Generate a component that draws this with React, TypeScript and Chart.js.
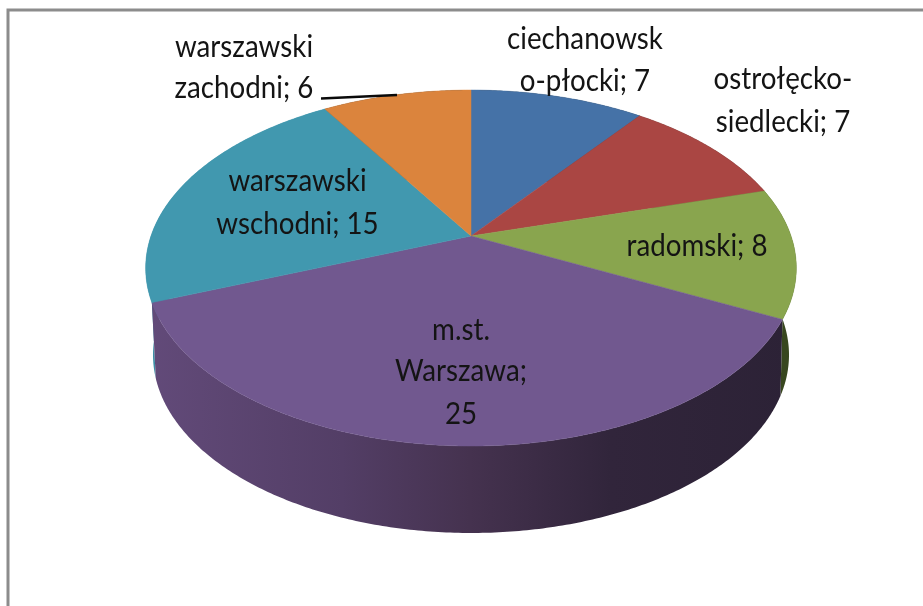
import React, { useEffect, useRef } from "react";
import { Chart, registerables } from "chart.js";

Chart.register(...registerables);

const categories = [
  "ciechanowsko-płocki",
  "ostrołęcko-siedlecki",
  "radomski",
  "m.st. Warszawa",
  "warszawski wschodni",
  "warszawski zachodni",
];
const seriesValues = [7, 7, 8, 25, 15, 6];
const sliceColors = ["#4572A7", "#AA4643", "#89A54E", "#71588F", "#4198AF", "#DB843D"];
const wrappedLabels = [
  ["ciechanowsk", "o-płocki; {v}"],
  ["ostrołęcko-", "siedlecki; {v}"],
  ["radomski; {v}"],
  ["m.st.", "Warszawa;", "{v}"],
  ["warszawski", "wschodni; {v}"],
  ["warszawski", "zachodni; {v}"],
];

// layout only: centre x and first/next baselines for each label
const labelLayout = [
  { x: 585, y: [49, 91] },
  { x: 783, y: [89, 132] },
  { x: 697, y: [256] },
  { x: 461, y: [340, 381, 424] },
  { x: 297.5, y: [191, 234] },
  { x: 244, y: [57, 98] },
];

const CX = 471;
const CY = 236;
const TOP_FACE = { persp: -0.18, rx: 320, ry: 172.2, y0: CY };
const BASE_FACE = { persp: -0.24, rx: 308.7, ry: 167.8, y0: 312.2 };
const TEXT_STRETCH = 0.895;

function project(f: { persp: number; rx: number; ry: number; y0: number }, theta: number) {
  const u = Math.sin(theta);
  const v = -Math.cos(theta);
  const d = 1 + f.persp * v;
  return { x: CX + (f.rx * u) / d, y: f.y0 + (f.ry * v) / d };
}

function arcPoints(a0: number, a1: number) {
  const n = Math.max(2, Math.ceil((a1 - a0) / 0.01));
  const pts: number[] = [];
  for (let i = 0; i <= n; i++) pts.push(a0 + ((a1 - a0) * i) / n);
  return pts;
}

const pie3d = {
  id: "pie3d",
  beforeDatasetsDraw(chart: any) {
    const ctx: CanvasRenderingContext2D = chart.ctx;
    const arcs = chart.getDatasetMeta(0).data as any[];
    const slices = arcs.map((el: any, i: number) => ({
      i,
      a0: el.startAngle + Math.PI / 2,
      a1: el.endAngle + Math.PI / 2,
      color: el.options.backgroundColor as string,
    }));

    // side walls
    const purple = ctx.createLinearGradient(150, 0, 790, 0);
    purple.addColorStop(0, "#624a79");
    purple.addColorStop(0.3, "#533e66");
    purple.addColorStop(0.5, "#45324f");
    purple.addColorStop(0.72, "#31253b");
    purple.addColorStop(1, "#2c2236");
    const sideFill = (i: number) =>
      i === 3 ? purple : i === 2 ? "#38471f" : i === 4 ? "#3c8ea6" : "#333333";
    [0, 1, 5, 4, 2, 3].forEach((idx) => {
      const s = slices[idx];
      const pts = arcPoints(s.a0, s.a1);
      ctx.beginPath();
      pts.forEach((t, k) => {
        const p = project(TOP_FACE, t);
        if (k === 0) ctx.moveTo(p.x, p.y);
        else ctx.lineTo(p.x, p.y);
      });
      pts
        .slice()
        .reverse()
        .forEach((t) => {
          const p = project(BASE_FACE, t);
          ctx.lineTo(p.x, p.y);
        });
      ctx.closePath();
      ctx.fillStyle = sideFill(idx) as any;
      ctx.fill();
    });

    // top face
    slices.forEach((s) => {
      ctx.beginPath();
      ctx.moveTo(CX, CY);
      arcPoints(s.a0, s.a1).forEach((t) => {
        const p = project(TOP_FACE, t);
        ctx.lineTo(p.x, p.y);
      });
      ctx.closePath();
      ctx.fillStyle = s.color;
      ctx.strokeStyle = s.color;
      ctx.lineWidth = 0.5;
      ctx.fill();
      ctx.stroke();
    });
    return false;
  },
  afterDraw(chart: any) {
    const ctx: CanvasRenderingContext2D = chart.ctx;
    ctx.save();
    // frame
    ctx.strokeStyle = "#8c8c8c";
    ctx.lineWidth = 3;
    ctx.beginPath();
    ctx.moveTo(8, 610);
    ctx.lineTo(8, 10);
    ctx.lineTo(930, 10);
    ctx.stroke();
    // leader line
    ctx.strokeStyle = "#0a0a0a";
    ctx.lineWidth = 2.5;
    ctx.beginPath();
    ctx.moveTo(321, 98.5);
    ctx.lineTo(397, 95);
    ctx.stroke();
    // labels
    ctx.fillStyle = "#141414";
    ctx.textAlign = "center";
    ctx.textBaseline = "alphabetic";
    ctx.font = "31px Lato";
    (ctx as any).filter = "blur(0.5px)";
    wrappedLabels.forEach((lines, i) => {
      lines.forEach((line, k) => {
        ctx.save();
        ctx.translate(labelLayout[i].x, labelLayout[i].y[k]);
        ctx.scale(TEXT_STRETCH, 1);
        ctx.fillText(line.replace("{v}", String(seriesValues[i])), 0, 0);
        ctx.restore();
      });
    });
    ctx.restore();
  },
};

export default function App() {
  const ref = useRef<HTMLCanvasElement>(null);
  useEffect(() => {
    const chart = new Chart(ref.current!, {
      type: "pie",
      data: {
        labels: categories,
        datasets: [{ data: seriesValues, backgroundColor: sliceColors, borderWidth: 0 }],
      },
      options: {
        animation: false,
        responsive: false,
        plugins: { legend: { display: false }, tooltip: { enabled: false } },
      },
      plugins: [pie3d as any],
    });
    return () => chart.destroy();
  }, []);
  return (
    <canvas
      ref={ref}
      width={923}
      height={606}
      style={{ position: "absolute", left: 0, top: 0, display: "block", background: "#fff" }}
    />
  );
}
